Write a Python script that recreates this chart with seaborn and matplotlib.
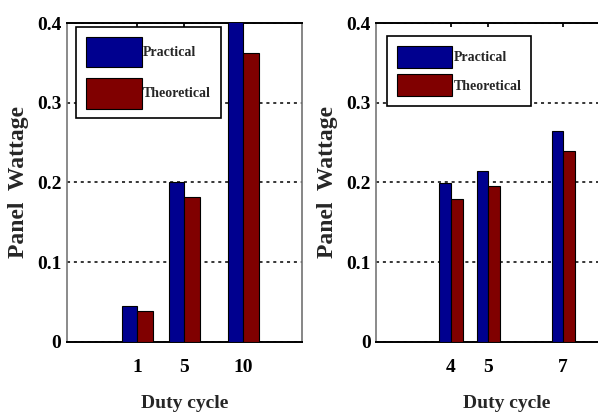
import pandas as pd
import seaborn as sns
import matplotlib.pyplot as plt

# left panel
duty_left = [1, 5, 10]
practical_left = [0.045, 0.200, 0.410]
theoretical_left = [0.039, 0.182, 0.362]

# right panel
duty_right = [4, 5, 7]
practical_right = [0.199, 0.215, 0.264]
theoretical_right = [0.179, 0.196, 0.239]

series = ["Practical", "Theoretical"]
colors = ["#00008f", "#800000"]

sns.set_theme(style="white")
plt.rcParams["font.family"] = ["Liberation Serif", "DejaVu Serif"]
plt.rcParams["font.weight"] = "bold"


def make_df(x, p, t):
    return pd.DataFrame({
        "duty": x + x,
        "watt": p + t,
        "kind": [series[0]] * len(x) + [series[1]] * len(x),
    })


fig = plt.figure(figsize=(5.98, 4.19), dpi=100)
ax1 = fig.add_axes([0.112, 0.184, 0.393, 0.761])
ax2 = fig.add_axes([0.629, 0.184, 0.438, 0.761])

panels = [
    (ax1, make_df(duty_left, practical_left, theoretical_left), duty_left, (-5, 15), 0.65,
     3.0, 0.8, (0.01, 1.01)),
    (ax2, make_df(duty_right, practical_right, theoretical_right), duty_right, (2, 9), 0.62,
     2.0, 0.5, (0.015, 0.98)),
]

for ax, df, ticks, xlim, w, hh, sp, anchor in panels:
    sns.barplot(data=df, x="duty", y="watt", hue="kind", palette=colors,
                native_scale=True, width=w, dodge=True, edgecolor="black",
                linewidth=0.8, saturation=1, errorbar=None, ax=ax, zorder=3)
    ax.set_xlim(*xlim)
    ax.set_ylim(0, 0.4)
    ax.set_xticks(ticks)
    ax.set_xticklabels([str(t) for t in ticks])
    ax.set_yticks([0, 0.1, 0.2, 0.3, 0.4])
    ax.set_yticklabels(["0", "0.1", "0.2", "0.3", "0.4"])
    ax.yaxis.grid(True, color="black", linestyle=(0, (2, 2.5)), linewidth=1.1, zorder=0)
    ax.xaxis.grid(False)
    ax.set_axisbelow(True)
    ax.tick_params(axis="both", direction="in", length=3, top=True, right=False,
                   labelsize=14, colors="black")
    ax.tick_params(axis="x", pad=12)
    ax.tick_params(axis="y", pad=4)
    for lab in ax.get_xticklabels() + ax.get_yticklabels():
        lab.set_fontweight("bold")
    for s in ["top", "bottom"]:
        ax.spines[s].set_color("black")
        ax.spines[s].set_linewidth(1.4)
    ax.spines["left"].set_color("#777777")
    ax.spines["left"].set_linewidth(1.2)
    ax.spines["right"].set_color("#777777")
    ax.set_xlabel("Duty cycle", fontsize=14, fontweight="bold", labelpad=14)
    ax.set_ylabel("Panel  Wattage", fontsize=17, fontweight="bold", labelpad=6)

    handles, labels = ax.get_legend_handles_labels()
    leg = ax.legend(handles, labels, loc="upper left", fontsize=10,
                    handlelength=4.0, handleheight=hh, handletextpad=0.1,
                    borderpad=0.7, labelspacing=sp, fancybox=False,
                    framealpha=1, edgecolor="black", bbox_to_anchor=anchor)
    leg.get_frame().set_linewidth(1.2)

fig.savefig("out.png", dpi=100)
